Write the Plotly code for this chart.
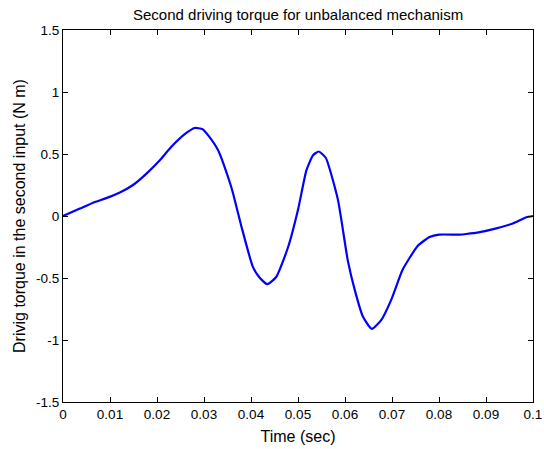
import plotly.graph_objects as go

t = [0, 0.0036, 0.0068, 0.0089, 0.0121, 0.0149, 0.0177, 0.0206, 0.0231, 0.0259,
     0.028, 0.0297, 0.0309, 0.033, 0.0355, 0.0362, 0.038, 0.0404, 0.0419, 0.0435,
     0.0454, 0.0479, 0.050, 0.0518, 0.0532, 0.0544, 0.0559, 0.0585, 0.0606, 0.0621,
     0.0638, 0.0657, 0.0677, 0.0699, 0.0723, 0.0755, 0.078, 0.080, 0.0844, 0.0858,
     0.0887, 0.0922, 0.0957, 0.0986, 0.1]
torque = [0, 0.06, 0.113, 0.14, 0.19, 0.25, 0.34, 0.45, 0.56, 0.66,
          0.71, 0.70, 0.65, 0.53, 0.27, 0.18, -0.09, -0.41, -0.50, -0.55,
          -0.49, -0.25, 0.05, 0.37, 0.49, 0.52, 0.47, 0.13, -0.36, -0.60,
          -0.81, -0.91, -0.84, -0.67, -0.43, -0.24, -0.17, -0.15, -0.15, -0.145,
          -0.13, -0.10, -0.06, -0.01, 0.0]

xticks = [0, 0.01, 0.02, 0.03, 0.04, 0.05, 0.06, 0.07, 0.08, 0.09, 0.1]
xticktext = ["0", "0.01", "0.02", "0.03", "0.04", "0.05", "0.06", "0.07", "0.08", "0.09", "0.1"]
yticks = [-1.5, -1, -0.5, 0, 0.5, 1, 1.5]
yticktext = ["-1.5", "-1", "-0.5", "0", "0.5", "1", "1.5"]

font_family = "Liberation Sans, Arial, Helvetica, sans-serif"

fig = go.Figure()
fig.add_trace(go.Scatter(x=t, y=torque, mode="lines",
                         line=dict(color="#0000ff", width=2.2, shape="spline", smoothing=0.5),
                         showlegend=False))

axis_common = dict(showline=True, linecolor="black", linewidth=1, mirror="ticks",
                   ticks="inside", ticklen=5, tickcolor="black", showgrid=False,
                   zeroline=False, automargin=False,
                   tickfont=dict(size=13.5, color="black", family=font_family))

fig.update_layout(
    width=544, height=449,
    margin=dict(l=63, r=11, t=30, b=47),
    paper_bgcolor="white", plot_bgcolor="white",
    font=dict(family=font_family, color="black"),
    title=dict(text="Second driving torque for unbalanced mechanism", x=0.548, xanchor="center",
               y=0.968, yanchor="middle", font=dict(size=15, color="black", family=font_family)),
    xaxis=dict(range=[0, 0.1], tickvals=xticks, ticktext=xticktext,
               title=dict(text="Time (sec)", font=dict(size=16), standoff=9), **axis_common),
    yaxis=dict(range=[-1.5, 1.5], tickvals=yticks, ticktext=yticktext,
               title=dict(text="Drivig torque in the second input (N m)", font=dict(size=16), standoff=6),
               **axis_common),
)
fig.write_html("out.html")
